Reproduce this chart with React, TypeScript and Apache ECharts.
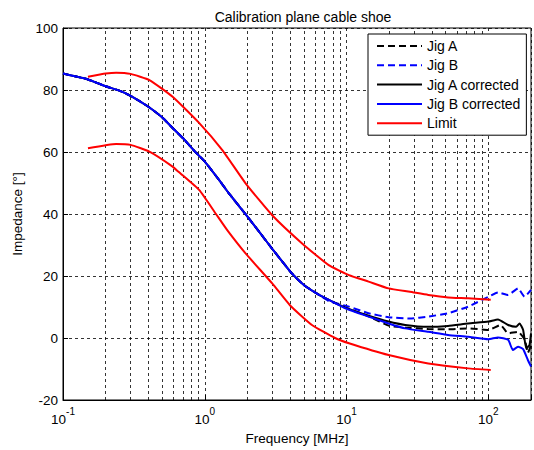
import React, { useEffect, useRef } from "react";
import * as echarts from "echarts";

// Shared low-frequency part (all four measured curves overlap there)
const lowFreq = [0.1, 0.15, 0.2, 0.25, 0.3, 0.4, 0.5, 0.6, 0.7, 0.85, 1.0, 1.26, 1.5, 1.92, 2.5, 3.0, 4.1, 5, 6.4];
const lowVal = [85.3, 83.4, 81.2, 79.8, 78.1, 74.6, 71.2, 67.5, 64.5, 60.2, 56.9, 51.0, 46.3, 40.2, 33.4, 28.7, 20.9, 17.1, 13.9];

const jigAF = [7.5, 9.8, 14.3, 19.8, 25.9, 37.7, 52, 72, 100, 122, 138, 162, 181, 190, 200];
const jigAV = [12.3, 9.8, 7.0, 4.0, 3.4, 2.9, 2.8, 3.1, 2.6, 4.2, 1.5, 2.0, -0.6, -4.8, -2.3];

const jigBF = [7.5, 10.4, 14.3, 19.8, 28, 37.7, 52, 72, 100, 117, 138, 162, 180, 200];
const jigBV = [11.9, 10.1, 8.0, 6.7, 6.3, 6.9, 8.0, 10.1, 13.3, 14.7, 13.9, 16.0, 13.3, 15.5];

const jigACorrF = [7.5, 9.8, 14.3, 19.8, 25.9, 37.7, 52, 72, 100, 117, 138, 157, 166, 176, 185, 195, 200];
const jigACorrV = [12.3, 9.8, 7.2, 5.3, 4.2, 3.6, 3.9, 4.7, 5.3, 6.0, 4.2, 3.6, 4.7, 2.6, -3.3, -2.3, 1.5];

const jigBCorrF = [7.5, 9.8, 12.2, 14.3, 19.8, 25.9, 37.7, 52, 72, 100, 117, 138, 149, 162, 176, 190, 200];
const jigBCorrV = [12.3, 9.6, 8.0, 6.9, 4.7, 3.1, 2.0, 1.0, 0.4, -0.4, 0.2, -0.6, -3.9, -2.8, -3.6, -7.1, -9.2];

const limitUpF = [0.15, 0.2, 0.237, 0.3, 0.407, 0.593, 0.915, 1.33, 1.94, 2.99, 4.86, 7.49, 10.4, 14.3, 19.8, 28, 37.7, 52, 72, 104];
const limitUpV = [84.3, 85.3, 85.6, 85.2, 83.2, 77.8, 69.3, 60.6, 49.9, 39.6, 30.5, 23.5, 20.3, 18.2, 16.0, 14.9, 13.9, 13.1, 12.8, 12.3];

const limitLoF = [0.15, 0.237, 0.3, 0.407, 0.593, 0.653, 0.915, 1.2, 1.44, 1.94, 2.99, 4.0, 5.7, 8.3, 10.4, 19.8, 37.7, 72, 104];
const limitLoV = [61.2, 62.6, 62.3, 60.1, 55.3, 53.6, 47.7, 40.0, 34.8, 27.3, 17.6, 10.5, 4.2, 0.0, -1.7, -5.5, -8.2, -9.8, -10.3];

const minorGridX = [0.2, 0.3, 0.4, 0.5, 0.6, 0.7, 0.8, 0.9, 2, 3, 4, 5, 6, 7, 8, 9, 20, 30, 40, 50, 60, 70, 80, 90];

const legendNames = ["Jig A", "Jig B", "Jig A corrected", "Jig B corrected", "Limit"];

const pairs = (f: number[], v: number[]) => f.map((x, i) => [x, v[i]]);
const withLow = (f: number[], v: number[]) => [...pairs(lowFreq, lowVal), ...pairs(f, v)];

const FONT = "Liberation Sans, Arial, sans-serif";
const gridDash = { color: "#000", width: 0.8, type: [3, 3] as any };

export default function App() {
  const ref = useRef<HTMLDivElement>(null);
  useEffect(() => {
    if (!ref.current) return;
    const chart = echarts.init(ref.current, undefined, { renderer: "svg" });
    const lineSeries = (name: string, data: number[][], color: string, dashed: boolean, z = 3) => ({
      name,
      type: "line",
      data,
      showSymbol: false,
      symbol: "none",
      smooth: 0.15,
      z,
      lineStyle: { color, width: 2, type: dashed ? [7, 4] : "solid" },
      itemStyle: { color },
    });
    chart.setOption({
      animation: false,
      backgroundColor: "#fff",
      textStyle: { fontFamily: FONT },
      title: {
        text: "Calibration plane cable shoe",
        left: 298,
        textAlign: "center",
        top: 5,
        textStyle: { fontFamily: FONT, fontSize: 14, fontWeight: "normal", color: "#000" },
      },
      grid: { left: 63, right: 1, top: 28, bottom: 50, show: true, borderColor: "#000", borderWidth: 1, backgroundColor: "#fff" },
      legend: {
        data: legendNames,
        orient: "vertical",
        left: 368,
        top: 34,
        z: 10,
        itemWidth: 45,
        itemHeight: 14,
        itemGap: 5.3,
        padding: [5, 6, 5, 8],
        borderColor: "#000",
        borderWidth: 1,
        backgroundColor: "#fff",
        itemStyle: { opacity: 0 },
        textStyle: { fontFamily: FONT, fontSize: 14, color: "#000" },
      },
      xAxis: {
        type: "log",
        logBase: 10,
        min: 0.1,
        max: 200,
        name: "Frequency [MHz]",
        nameLocation: "middle",
        nameGap: 31,
        nameTextStyle: { fontFamily: FONT, fontSize: 13.5, color: "#000" },
        axisLine: { onZero: false, lineStyle: { color: "#000" } },
        axisTick: { inside: true, length: 5, lineStyle: { color: "#000" } },
        splitLine: { show: true, lineStyle: gridDash },
        axisLabel: {
          margin: 6,
          formatter: (v: number) => {
            const l = Math.log10(v);
            const e = Math.round(l);
            if (Math.abs(l - e) > 0.01) return "";
            return "{b|10}{s|" + e + "}";
          },
          rich: {
            b: { fontFamily: FONT, fontSize: 13.5, color: "#000", verticalAlign: "bottom", lineHeight: 20 },
            s: { fontFamily: FONT, fontSize: 10, color: "#000", verticalAlign: "top", lineHeight: 20, padding: [0, 0, 10, 0] },
          },
        },
      },
      yAxis: {
        type: "value",
        min: -20,
        max: 100,
        interval: 20,
        name: "Impedance [°]",
        nameLocation: "middle",
        nameGap: 36,
        nameTextStyle: { fontFamily: FONT, fontSize: 13.5, color: "#000" },
        axisLine: { show: true, lineStyle: { color: "#000" } },
        axisTick: { show: true, inside: true, length: 5, lineStyle: { color: "#000" } },
        splitLine: { show: true, lineStyle: gridDash },
        axisLabel: { margin: 5, fontFamily: FONT, fontSize: 13.5, color: "#000" },
      },
      series: [
        {
          name: "grid",
          type: "line",
          data: [],
          z: 1,
          silent: true,
          markLine: {
            z: 1,
            silent: true,
            symbol: ["none", "none"],
            label: { show: false },
            lineStyle: gridDash,
            data: minorGridX.map((x) => ({ xAxis: x })),
          },
        },
        lineSeries("Jig A", withLow(jigAF, jigAV), "#000", true),
        lineSeries("Jig B", withLow(jigBF, jigBV), "#0000ff", true),
        lineSeries("Jig A corrected", withLow(jigACorrF, jigACorrV), "#000", false),
        lineSeries("Jig B corrected", withLow(jigBCorrF, jigBCorrV), "#0000ff", false),
        lineSeries("Limit", pairs(limitUpF, limitUpV), "#ff0000", false),
        lineSeries("Limit", pairs(limitLoF, limitLoV), "#ff0000", false),
      ],
    });
    return () => chart.dispose();
  }, []);
  return <div ref={ref} style={{ position: "fixed", left: 0, top: 0, width: 534, height: 450 }} />;
}
